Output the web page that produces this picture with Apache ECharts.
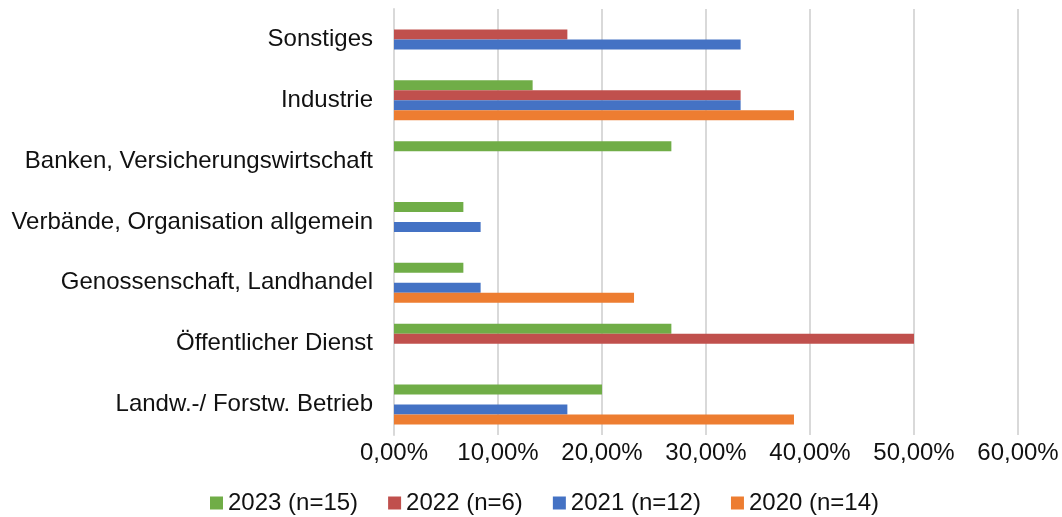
<!DOCTYPE html>
<html>
<head>
<meta charset="utf-8">
<script src="https://cdn.jsdelivr.net/npm/echarts@6/dist/echarts.min.js"></script>
<style>
html,body{margin:0;padding:0;background:#fff;}
#chart{width:1062px;height:517px;}
</style>
</head>
<body>
<div id="chart"></div>
<script>
// Categories, bottom to top
var categories = ['Landw.-/ Forstw. Betrieb', 'Öffentlicher Dienst', 'Genossenschaft, Landhandel', 'Verbände, Organisation allgemein', 'Banken, Versicherungswirtschaft', 'Industrie', 'Sonstiges'];
var seriesNames = ['2023 (n=15)', '2022 (n=6)', '2021 (n=12)', '2020 (n=14)'];
var values2023 = [20.00, 26.67, 6.67, 6.67, 26.67, 13.33, null];
var values2022 = [null, 50.00, null, null, null, 33.33, 16.67];
var values2021 = [16.67, null, 8.33, 8.33, null, 33.33, 33.33];
var values2020 = [38.46, null, 23.08, null, null, 38.46, null];
var xTicks = [0, 10, 20, 30, 40, 50, 60];

var colors = ['#70AD47', '#C0504D', '#4472C4', '#ED7D31'];
var font = 'Liberation Sans, Arial, sans-serif';
var allValues = [values2023, values2022, values2021, values2020];

var chart = echarts.init(document.getElementById('chart'), null, {renderer: 'canvas'});
var series = seriesNames.map(function (name, i) {
  return {
    name: name,
    type: 'bar',
    data: allValues[i],
    barWidth: 10,
    barGap: '0%',
    itemStyle: {color: colors[i]},
    emphasis: {disabled: true}
  };
});

chart.setOption({
  animation: false,
  textStyle: {fontFamily: font},
  grid: {left: 394, right: 44, top: 9, bottom: 82, containLabel: false},
  legend: {
    data: seriesNames,
    left: 205,
    top: 486,
    itemWidth: 13,
    itemHeight: 13,
    itemGap: 30,
    icon: 'rect',
    textStyle: {fontSize: 24, color: '#111', fontFamily: font}
  },
  xAxis: {
    type: 'value',
    min: xTicks[0],
    max: xTicks[xTicks.length - 1],
    interval: 10,
    axisLine: {show: false},
    axisTick: {show: false},
    splitLine: {show: true, lineStyle: {color: '#d9d9d9', width: 2}},
    axisLabel: {
      fontSize: 24, color: '#111', margin: 6, fontFamily: font,
      formatter: function (v) { return v.toFixed(2).replace('.', ',') + '%'; }
    }
  },
  yAxis: {
    type: 'category',
    data: categories,
    axisLine: {show: true, lineStyle: {color: '#d9d9d9', width: 2}},
    axisTick: {show: false},
    axisLabel: {fontSize: 24, color: '#111', margin: 21, fontFamily: font}
  },
  series: series
});
</script>
</body>
</html>
